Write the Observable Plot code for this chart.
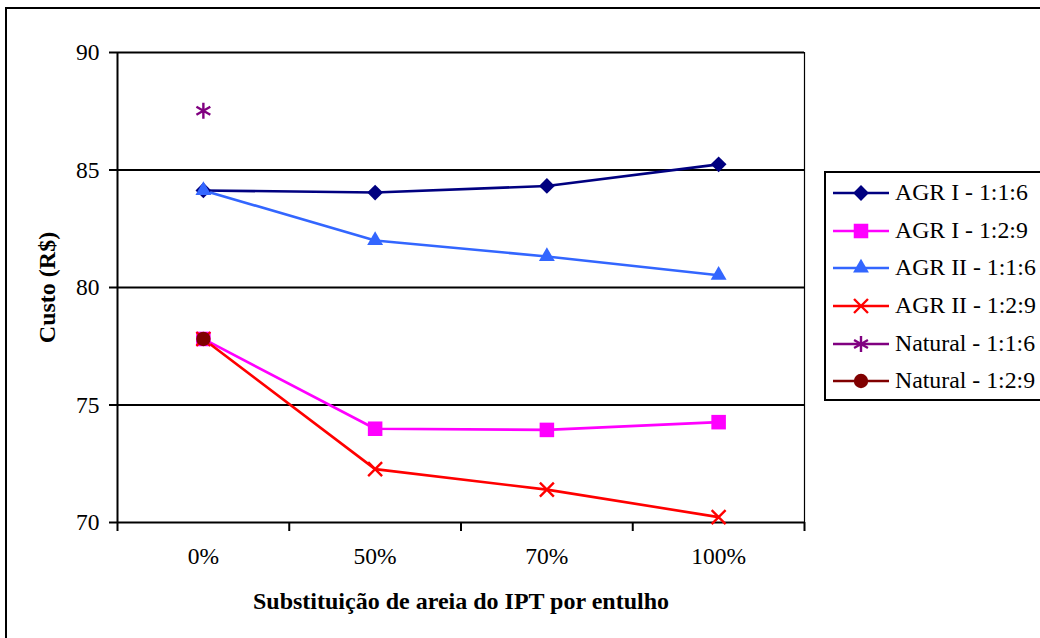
<!DOCTYPE html>
<html>
<head>
<meta charset="utf-8">
<script src="https://cdn.jsdelivr.net/npm/d3@7"></script>
<script src="https://cdn.jsdelivr.net/npm/@observablehq/plot@0.6"></script>
<style>
  body { margin: 0; background: #fff; }
  #wrap { position: relative; width: 1040px; height: 638px; overflow: hidden; background: #fff;
          font-family: "Liberation Serif", serif; }
  #frame { position: absolute; left: 5px; top: 7px; width: 1100px; height: 700px;
           border: 2px solid #000; box-sizing: border-box; pointer-events: none; }
  #chart { position: absolute; left: 0; top: 0; }
  #legend { position: absolute; left: 824px; top: 171px; width: 260px; height: 230px;
            border: 2px solid #000; box-sizing: border-box; background: #fff; padding-top: 1px; }
  .row { display: flex; align-items: center; height: 37.7px; font-size: 23.8px; line-height: 1; white-space: nowrap; }
  .row svg { display: block; margin-left: 7px; margin-right: 6px; }
</style>
</head>
<body>
<div id="wrap">
  <div id="chart"></div>
  <div id="legend"></div>
  <div id="frame"></div>
</div>
<script>
// ---- data ----
const categories = ["0%", "50%", "70%", "100%"];
const yTicks = [70, 75, 80, 85, 90];
const seriesNames = ["AGR I - 1:1:6", "AGR I - 1:2:9", "AGR II - 1:1:6", "AGR II - 1:2:9", "Natural - 1:1:6", "Natural - 1:2:9"];
const agrI_116  = [84.13, 84.04, 84.32, 85.24];
const agrI_129  = [77.81, 73.99, 73.94, 74.27];
const agrII_116 = [84.13, 82.00, 81.32, 80.52];
const agrII_129 = [77.81, 72.27, 71.40, 70.23];
const natural_116 = [87.52];
const natural_129 = [77.81];
const xTitle = "Substituição de areia do IPT por entulho";
const yTitle = "Custo (R$)";

// ---- styles ----
const seriesColors  = ["#000080", "#FF00FF", "#3366FF", "#FF0000", "#800080", "#800000"];
const seriesSymbols = ["diamond2", "square", "triangle", "times", "asterisk", "circle"];
const seriesFilled  = [true, true, true, false, false, true];
const seriesR       = [7.1, 8.2, 5.9, 6.4, 7.6, 7.2];

const seriesValues = [agrI_116, agrI_129, agrII_116, agrII_129, natural_116, natural_129];
const rows = seriesValues.flatMap((vals, s) =>
  vals.map((v, i) => ({series: seriesNames[s], s, i, v})));

const n = categories.length;
const font = "Liberation Serif";

const marks = [
  Plot.ruleY(yTicks.slice(1), {y: d => d, stroke: "#000", strokeWidth: 2}),
  Plot.ruleY([yTicks[0]], {y: d => d, stroke: "#000", strokeWidth: 2}),
  Plot.ruleX([-0.5], {x: d => d, stroke: "#000", strokeWidth: 2}),
  Plot.ruleX([n - 0.5], {x: d => d, stroke: "#000", strokeWidth: 1.2}),
  Plot.axisY({ticks: yTicks, tickSize: 8, tickPadding: 10, strokeWidth: 2, label: null, fontSize: 23.5, fontFamily: font}),
  Plot.axisX({ticks: d3.range(n + 1).map(i => i - 0.5), tickSize: 9, strokeWidth: 2, tickFormat: () => "", label: null}),
  Plot.axisX({ticks: d3.range(n), tickSize: 0, tickPadding: 25, tickFormat: i => categories[i], label: null, fontSize: 23.5, fontFamily: font}),
  Plot.line(rows, {x: "i", y: "v", z: "series", stroke: "series", strokeWidth: 2.6}),
  ...seriesNames.map((name, s) => Plot.dot(rows.filter(d => d.s === s), {
    x: "i", y: "v",
    symbol: seriesSymbols[s],
    r: seriesR[s],
    fill: seriesFilled[s] ? seriesColors[s] : "none",
    stroke: seriesFilled[s] ? "none" : seriesColors[s],
    strokeWidth: seriesFilled[s] ? 0 : 2.4
  })),
  Plot.text([yTitle], {frameAnchor: "left", textAnchor: "middle", rotate: -90, dx: -70, fontWeight: "bold", fontSize: 24, fontFamily: font, text: d => d}),
  Plot.text([xTitle], {frameAnchor: "bottom", textAnchor: "middle", dy: 86, fontWeight: "bold", fontSize: 24, fontFamily: font, text: d => d})
];

const chart = Plot.plot({
  width: 1040, height: 638,
  marginLeft: 117, marginRight: 236, marginTop: 52, marginBottom: 116,
  style: {fontFamily: font, fontSize: "23px", color: "#000", background: "transparent", overflow: "visible"},
  x: {type: "linear", domain: [-0.5, n - 0.5]},
  y: {domain: [yTicks[0], yTicks[yTicks.length - 1]]},
  color: {domain: seriesNames, range: seriesColors},
  marks
});
document.getElementById("chart").append(chart);

// ---- legend (HTML) ----
const symMap = {diamond2: d3.symbolDiamond2, square: d3.symbolSquare, triangle: d3.symbolTriangle,
                times: d3.symbolTimes, asterisk: d3.symbolAsterisk, circle: d3.symbolCircle};
const legend = d3.select("#legend");
seriesNames.forEach((name, s) => {
  const row = legend.append("div").attr("class", "row");
  const svg = row.append("svg").attr("width", 56).attr("height", 20);
  svg.append("line").attr("x1", 0).attr("x2", 56).attr("y1", 10).attr("y2", 10)
    .attr("stroke", seriesColors[s]).attr("stroke-width", 2.6);
  svg.append("path").attr("transform", "translate(28,10)")
    .attr("d", d3.symbol(symMap[seriesSymbols[s]], Math.PI * seriesR[s] * seriesR[s])())
    .attr("fill", seriesFilled[s] ? seriesColors[s] : "none")
    .attr("stroke", seriesFilled[s] ? "none" : seriesColors[s])
    .attr("stroke-width", 2.4);
  row.append("span").text(name);
});
</script>
</body>
</html>
